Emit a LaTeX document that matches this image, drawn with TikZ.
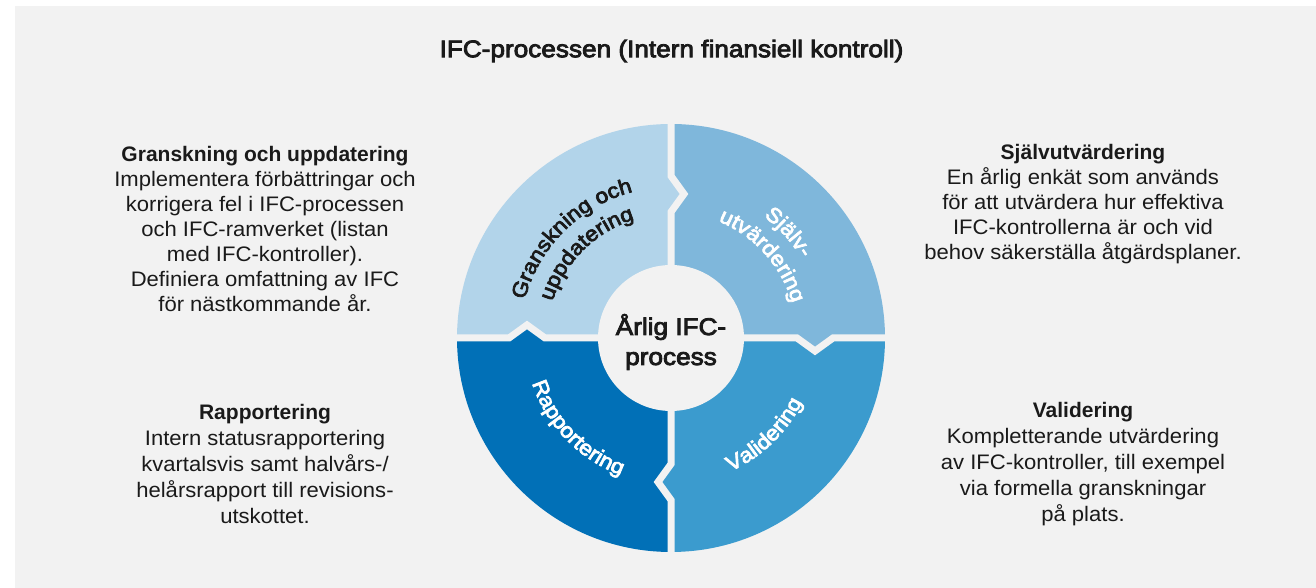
\documentclass[tikz,border=0pt]{standalone}
\usepackage{fontspec}
\setmainfont{Liberation Sans}
\newfontfamily\regfont[FakeStretch=1.05]{Liberation Sans}
\newfontfamily\medfont[FakeBold=3.5,FakeStretch=1.09]{Liberation Sans}
\usetikzlibrary{decorations.text}
\definecolor{bg}{HTML}{F2F2F2}
\definecolor{ink}{HTML}{1A1A1A}
\definecolor{qtl}{HTML}{B2D4EA}
\definecolor{qtr}{HTML}{7FB7DB}
\definecolor{qbr}{HTML}{3B9BCE}
\definecolor{qbl}{HTML}{0170B7}
\newcommand\ringfnt{\medfont\fontsize{21}{25}\selectfont}
\begin{document}
\begin{tikzpicture}[x=1pt,y=1pt,
  blocktext/.style={align=center, text=ink, font=\regfont\fontsize{21}{25}\selectfont},
  blocktextb/.style={align=center, text=ink, font=\regfont\fontsize{21}{26}\selectfont},
  gapline/.style={draw=bg, line width=7pt, miter limit=10, line join=miter}]
\useasboundingbox (0,0) rectangle (1316,588);
\fill[white] (0,0) rectangle (1316,588);
\fill[bg] (15,0) rectangle (1316,582);

\node[font=\medfont\fontsize{24}{28}\selectfont, text=ink] (title) at (671.5,537) {IFC-processen (Intern finansiell kontroll)};

\begin{scope}[shift={(671,250)}]
  \def\m{144}\def\h{18}\def\d{13}
  \begin{scope}
    \clip (0,0) circle[radius=214];
    \fill[qtl] (0,0) -- (0,\m-\h) -- (\d,\m) -- (0,\m+\h) -- (0,230) -- (-230,230) -- (-230,0)
      -- (-\m-\h,0) -- (-\m,\d) -- (-\m+\h,0) -- cycle;
    \fill[qtr] (0,0) -- (\m-\h,0) -- (\m,-\d) -- (\m+\h,0) -- (230,0) -- (230,230) -- (0,230)
      -- (0,\m+\h) -- (\d,\m) -- (0,\m-\h) -- cycle;
    \fill[qbr] (0,0) -- (0,-\m+\h) -- (-\d,-\m) -- (0,-\m-\h) -- (0,-230) -- (230,-230) -- (230,0)
      -- (\m+\h,0) -- (\m,-\d) -- (\m-\h,0) -- cycle;
    \fill[qbl] (0,0) -- (-\m+\h,0) -- (-\m,\d) -- (-\m-\h,0) -- (-230,0) -- (-230,-230) -- (0,-230)
      -- (0,-\m-\h) -- (-\d,-\m) -- (0,-\m+\h) -- cycle;
  \end{scope}
  \draw[gapline] (0,0) -- (0,\m-\h) -- (\d,\m) -- (0,\m+\h) -- (0,230);
  \draw[gapline] (0,0) -- (\m-\h,0) -- (\m,-\d) -- (\m+\h,0) -- (230,0);
  \draw[gapline] (0,0) -- (0,-\m+\h) -- (-\d,-\m) -- (0,-\m-\h) -- (0,-230);
  \draw[gapline] (0,0) -- (-\m+\h,0) -- (-\m,\d) -- (-\m-\h,0) -- (-230,0);
  \fill[bg] (0,0) circle[radius=73];

  \path[decorate, decoration={text along path, text align=center,
      text={|\ringfnt\color{ink}|Granskning och}}]
    (180:151) arc[start angle=180, end angle=90, radius=151];
  \path[decorate, decoration={text along path, text align=center,
      text={|\ringfnt\color{ink}|uppdatering}}]
    (180:124) arc[start angle=180, end angle=90, radius=124];
  \path[decorate, decoration={text along path, text align=center,
      text={|\ringfnt\color{white}|Själv-}}]
    (87:153) arc[start angle=87, end angle=-3, radius=153];
  \path[decorate, decoration={text along path, text align=center,
      text={|\ringfnt\color{white}|utvärdering}}]
    (87:126) arc[start angle=87, end angle=-3, radius=126];
  \path[decorate, decoration={text along path, text align=center,
      text={|\ringfnt\color{white}|Validering}}]
    (269:146) arc[start angle=269, end angle=359, radius=146];
  \path[decorate, decoration={text along path, text align=center,
      text={|\ringfnt\color{white}|Rapportering}}]
    (179:146) arc[start angle=179, end angle=269, radius=146];
\end{scope}

\node[font=\medfont\fontsize{24}{30}\selectfont, align=center, text=ink] (hub) at (671,246) {Årlig IFC-\\process};

\node[blocktext] (tlblock) at (265,359) {{\rmfamily\bfseries Granskning och uppdatering}\\Implementera förbättringar och\\korrigera fel i IFC-processen\\och IFC-ramverket (listan\\med IFC-kontroller).\\Definiera omfattning av IFC\\för nästkommande år.};
\node[blocktext] (trblock) at (1083,384) {{\rmfamily\bfseries Självutvärdering}\\En årlig enkät som används\\för att utvärdera hur effektiva\\IFC-kontrollerna är och vid\\behov säkerställa åtgärdsplaner.};
\node[blocktextb] (blblock) at (265,124) {{\rmfamily\bfseries Rapportering}\\Intern statusrapportering\\kvartalsvis samt halvårs-/\\helårsrapport till revisions-\\utskottet.};
\node[blocktextb] (brblock) at (1083,124) {{\rmfamily\bfseries Validering}\\Kompletterande utvärdering\\av IFC-kontroller, till exempel\\via formella granskningar\\på plats.};
\end{tikzpicture}
\end{document}
